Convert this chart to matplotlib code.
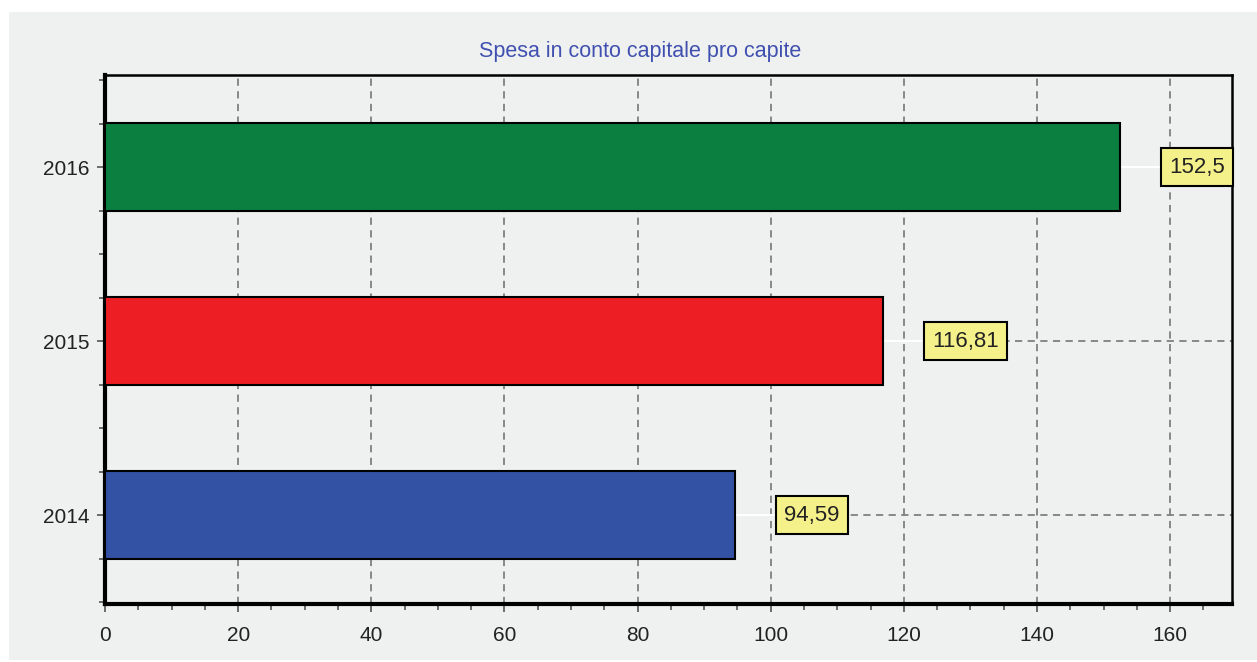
import matplotlib.pyplot as plt
from matplotlib.patches import Rectangle
from matplotlib.ticker import MultipleLocator

plt.rcParams['font.family'] = ['Liberation Sans', 'DejaVu Sans']

years = ['2014', '2015', '2016']
values = [94.59, 116.81, 152.5]
bar_colors = ['#3452a4', '#ee1f24', '#0a7f3f']
title = 'Spesa in conto capitale pro capite'

bg = '#eff0f0'
fig = plt.figure(figsize=(12.57, 6.62), dpi=100, facecolor='white')
fig.patches.append(Rectangle((9 / 1257, 2 / 662), 1 - 9 / 1257, 648 / 662,
                             transform=fig.transFigure, facecolor=bg,
                             edgecolor='none', zorder=-10))

ax = fig.add_axes([105 / 1257, 58 / 662, 1127 / 1257, 529 / 662])
ax.set_facecolor(bg)

pos = list(range(len(years)))
ax.barh(pos, values, height=0.51, color=bar_colors, edgecolor='black',
        linewidth=1.5, zorder=3)

ax.set_xlim(0, 169.3)
ax.set_ylim(-0.511, 2.529)
ax.set_yticks(pos)
ax.set_yticklabels(years)
ax.xaxis.set_major_locator(MultipleLocator(20))
ax.xaxis.set_minor_locator(MultipleLocator(5))
ax.yaxis.set_minor_locator(MultipleLocator(0.25))

ax.grid(True, which='major', color='#808080', linestyle=(0, (4, 3)),
        linewidth=1.3, zorder=1)
ax.set_axisbelow(True)

ax.tick_params(axis='both', which='major', labelsize=15, colors='#222222',
               length=6, width=1.2)
ax.tick_params(axis='both', which='minor', length=4, width=1.2, color='#555555')
ax.tick_params(axis='x', which='major', pad=10, color='#555555')
ax.tick_params(axis='y', which='major', pad=5, color='#555555')

for side in ['left', 'bottom']:
    ax.spines[side].set_linewidth(3)
for side in ['top', 'right']:
    ax.spines[side].set_linewidth(1.8)

# value labels with a short white leader from the bar end
for p, v in zip(pos, values):
    ax.plot([v, v + 6], [p, p], color='white', linewidth=1.5, zorder=2)
    ax.text(v + 7.4, p, str(v).replace('.', ','), fontsize=16, color='#222222',
            va='center', ha='left', zorder=4,
            bbox=dict(boxstyle='square,pad=0.37', facecolor='#f5f18a',
                      edgecolor='black', linewidth=1.5))

fig.text(0.509, 1 - 51 / 662, title, ha='center', va='center', fontsize=15.5,
         color='#4050b0')

fig.savefig('out.png', dpi=100, facecolor=fig.get_facecolor())
